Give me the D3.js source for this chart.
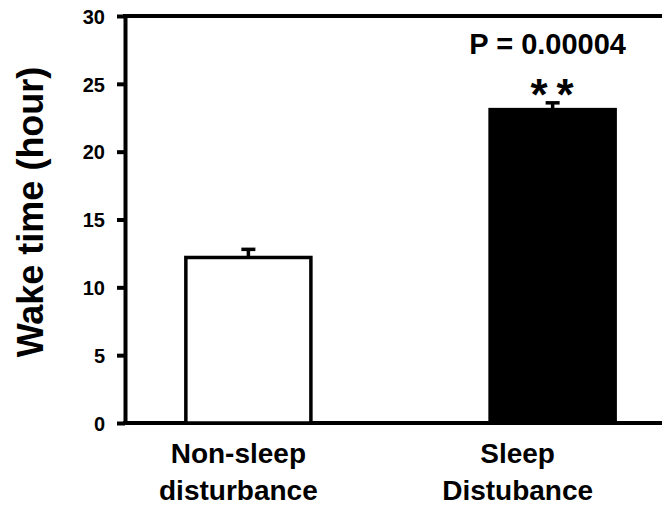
<!DOCTYPE html>
<html>
<head>
<meta charset="utf-8">
<script src="https://cdn.jsdelivr.net/npm/d3@7"></script>
<style>
  body { margin: 0; background: #fff; }
  text { font-family: "Liberation Sans", Arial, sans-serif; font-weight: bold; }
</style>
</head>
<body>
<div id="chart"></div>
<script>
// data
var groups = ["Non-sleep disturbance", "Sleep Distubance"];
var labelLines = [["Non-sleep", "disturbance"], ["Sleep", "Distubance"]];
var wakeHours = [12.2, 23.1];
var wakeErr = [0.6, 0.5];
var barFills = ["#fff", "#000"];
var yTicks = [0, 5, 10, 15, 20, 25, 30];

var W = 662, H = 510;
var margin = {top: 16, left: 125, bottom: 87};
var innerW = 551, innerH = H - margin.top - margin.bottom;

var svg = d3.select("#chart").append("svg").attr("width", W).attr("height", H);
var g = svg.append("g").attr("transform", "translate(" + margin.left + "," + margin.top + ")");

var x = d3.scaleBand().domain(groups).range([0, innerW]).paddingInner(0.589).paddingOuter(0.2);
var y = d3.scaleLinear().domain([0, 30]).range([innerH, 0]);

// y axis
var yAxis = g.append("g").call(d3.axisLeft(y).tickValues(yTicks).tickSize(8).tickSizeOuter(0).tickPadding(12));
yAxis.select(".domain").attr("stroke-width", 4).attr("stroke", "#000");
yAxis.selectAll(".tick line").attr("stroke-width", 4).attr("stroke", "#000");
yAxis.selectAll(".tick text").attr("fill", "#000").attr("dy", "0.36em")
  .style("font-size", "20px")
  .style("font-family", '"Liberation Sans", Arial, sans-serif').style("font-weight", "bold");

// top and bottom lines
g.append("line").attr("x1", -2).attr("x2", W).attr("y1", y(30)).attr("y2", y(30))
  .attr("stroke", "#000").attr("stroke-width", 4);
g.append("line").attr("x1", -2).attr("x2", W).attr("y1", y(0)).attr("y2", y(0))
  .attr("stroke", "#000").attr("stroke-width", 4);

// error bars
var capW = 14;
groups.forEach(function (d, i) {
  var cx = x(d) + x.bandwidth() / 2;
  g.append("line").attr("x1", cx).attr("x2", cx)
    .attr("y1", y(wakeHours[i])).attr("y2", y(wakeHours[i] + wakeErr[i]))
    .attr("stroke", "#000").attr("stroke-width", 3.5);
  g.append("line").attr("x1", cx - capW / 2).attr("x2", cx + capW / 2)
    .attr("y1", y(wakeHours[i] + wakeErr[i])).attr("y2", y(wakeHours[i] + wakeErr[i]))
    .attr("stroke", "#000").attr("stroke-width", 3.5);
});

// bars
g.selectAll(".bar").data(groups).enter().append("rect")
  .attr("class", "bar")
  .attr("x", function (d) { return x(d); })
  .attr("y", function (d, i) { return y(wakeHours[i]); })
  .attr("width", x.bandwidth())
  .attr("height", function (d, i) { return y(0) - y(wakeHours[i]); })
  .attr("fill", function (d, i) { return barFills[i]; })
  .attr("stroke", "#000").attr("stroke-width", 3.5);

// category labels
var labelShift = [-10, -35];
groups.forEach(function (d, i) {
  var t = g.append("text").attr("text-anchor", "middle").attr("font-size", 28)
    .attr("x", x(d) + x.bandwidth() / 2 + labelShift[i]).attr("y", innerH + 40);
  labelLines[i].forEach(function (s, j) {
    t.append("tspan").attr("x", x(d) + x.bandwidth() / 2 + labelShift[i]).attr("dy", j ? 37 : 0).text(s);
  });
});

// significance
var sx = x(groups[1]) + x.bandwidth() / 2;
g.append("text").attr("text-anchor", "middle").attr("font-size", 29)
  .attr("x", sx - 5).attr("y", y(30) + 38).text("P = 0.00004");
g.append("text").attr("text-anchor", "middle").attr("font-size", 44)
  .attr("letter-spacing", 9)
  .attr("x", sx + 4).attr("y", y(30) + 94).text("**");

// y label
svg.append("text").attr("text-anchor", "middle").attr("font-size", 36)
  .attr("transform", "translate(43," + 212 + ") rotate(-90)").text("Wake time (hour)");
</script>
</body>
</html>
